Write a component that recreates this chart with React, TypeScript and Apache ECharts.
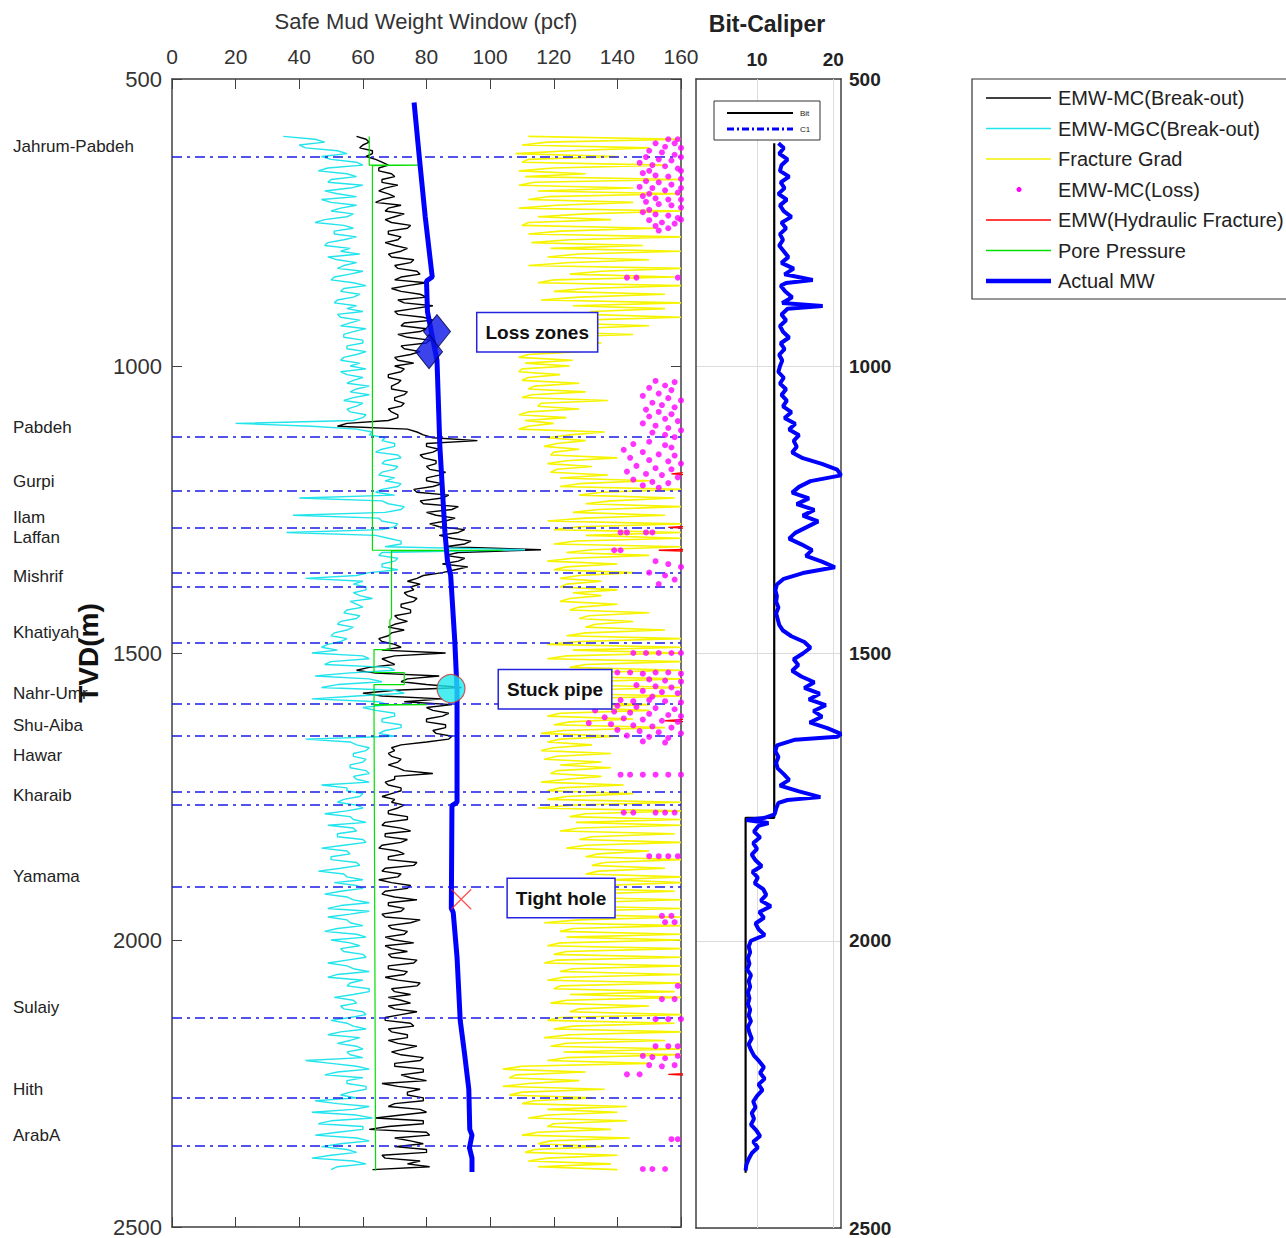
import React, { useEffect, useRef } from "react";
import * as echarts from "echarts";

const FONT = '"Liberation Sans", Arial, Helvetica, sans-serif';

// Log sampling: values every 5 m from 600 m TVD (20 values per 100 m row)
const LOG_TOP = 600;
const LOG_STEP = 5;

// EMW-MC (Break-out), pcf
const MC_BREAKOUT = [
  58, 61, 62, 60, 59, 63, 63, 61, 64, 66, 68, 65, 65, 69, 70, 66, 66, 71, 67, 65,
  68, 70, 66, 64, 72, 68, 67, 73, 70, 67, 69, 75, 74, 68, 68, 72, 71, 67, 70, 74,
  72, 68, 69, 76, 75, 70, 71, 77, 78, 72, 70, 80, 74, 69, 72, 78, 80, 71, 73, 82,
  76, 70, 71, 79, 82, 73, 72, 80, 78, 71, 74, 81, 80, 72, 73, 78, 75, 70, 71, 76,
  70, 73, 72, 68, 68, 72, 71, 69, 69, 74, 73, 70, 70, 73, 72, 68, 69, 71, 71, 68,
  55, 52, 74, 77, 79, 82, 96, 80, 80, 84, 82, 78, 79, 83, 83, 80, 81, 86, 84, 80,
  80, 85, 82, 76, 77, 87, 85, 78, 79, 90, 88, 80, 83, 89, 86, 81, 84, 92, 90, 84,
  88, 94, 92, 86, 116, 90, 86, 92, 90, 85, 93, 89, 85, 79, 77, 74, 78, 75, 76, 73,
  74, 77, 76, 72, 72, 75, 75, 70, 71, 74, 70, 68, 73, 69, 68, 65, 66, 70, 72, 66,
  86, 70, 66, 68, 70, 62, 58, 64, 84, 74, 72, 80, 91, 70, 60, 66, 85, 73, 88, 80,
  82, 87, 85, 80, 80, 86, 86, 82, 83, 88, 87, 80, 72, 69, 70, 68, 69, 72, 71, 68,
  71, 73, 82, 70, 70, 67, 68, 72, 72, 69, 66, 70, 69, 73, 71, 68, 68, 74, 74, 67,
  66, 72, 75, 67, 67, 74, 72, 66, 65, 71, 73, 68, 68, 77, 76, 67, 66, 72, 71, 65,
  69, 75, 74, 67, 66, 70, 77, 68, 68, 73, 72, 66, 67, 78, 75, 68, 69, 74, 73, 67,
  70, 76, 67, 69, 74, 68, 69, 77, 76, 68, 68, 74, 73, 67, 71, 78, 77, 69, 70, 75,
  68, 72, 75, 68, 70, 77, 72, 67, 67, 75, 76, 68, 69, 74, 74, 68, 71, 77, 73, 69,
  72, 79, 78, 70, 70, 79, 79, 72, 75, 80, 66, 71, 78, 74, 74, 79, 79, 70, 68, 78,
  80, 72, 64, 79, 79, 68, 62, 80, 81, 70, 75, 79, 70, 80, 80, 66, 67, 78, 74, 81,
  63,
];

// EMW-MGC (Break-out), pcf
const MGC_BREAKOUT = [
  35, 45, 48, 40, 42, 52, 55, 47, 50, 58, 60, 49, 46, 55, 58, 50, 49, 60, 56, 48,
  52, 58, 47, 50, 58, 53, 50, 57, 55, 48, 45, 54, 57, 51, 51, 58, 54, 49, 48, 56,
  53, 59, 49, 52, 58, 54, 52, 60, 56, 51, 50, 57, 61, 54, 53, 59, 57, 52, 51, 58,
  55, 60, 52, 53, 59, 56, 53, 61, 57, 54, 54, 60, 60, 55, 55, 61, 58, 54, 53, 59,
  56, 61, 53, 55, 60, 57, 55, 62, 58, 56, 62, 57, 54, 60, 58, 55, 56, 61, 60, 57,
  20, 44, 58, 63, 62, 67, 66, 70, 70, 66, 64, 71, 72, 67, 66, 71, 70, 66, 65, 70,
  67, 72, 71, 66, 64, 70, 40, 66, 68, 73, 72, 67, 38, 65, 66, 71, 70, 66, 36, 64,
  68, 72, 72, 67, 111, 66, 65, 71, 70, 66, 66, 71, 62, 58, 42, 60, 57, 61, 61, 57,
  59, 63, 56, 58, 60, 55, 54, 59, 58, 53, 52, 57, 55, 51, 50, 55, 53, 49, 47, 52,
  44, 60, 62, 50, 48, 68, 70, 55, 45, 62, 66, 52, 47, 70, 73, 58, 44, 65, 68, 60,
  64, 70, 70, 66, 66, 72, 72, 67, 65, 70, 42, 56, 58, 62, 61, 57, 57, 61, 60, 56,
  56, 61, 62, 57, 58, 62, 47, 55, 55, 60, 59, 54, 52, 58, 60, 55, 48, 56, 57, 61,
  49, 57, 58, 52, 52, 60, 61, 54, 47, 55, 56, 50, 50, 58, 59, 53, 46, 54, 55, 60,
  51, 58, 60, 53, 48, 55, 57, 62, 53, 49, 62, 56, 49, 55, 56, 60, 52, 48, 58, 61,
  50, 56, 59, 53, 54, 60, 61, 55, 49, 55, 57, 62, 52, 49, 60, 56, 55, 62, 62, 57,
  51, 57, 58, 53, 54, 60, 61, 56, 50, 55, 57, 61, 53, 49, 59, 56, 52, 58, 60, 55,
  56, 60, 42, 50, 58, 62, 52, 48, 60, 55, 55, 61, 61, 56, 53, 58, 45, 52, 62, 57,
  44, 58, 63, 50, 46, 60, 60, 52, 45, 58, 62, 53, 47, 55, 58, 50, 44, 57, 61, 52,
  50,
];

// Fracture gradient, pcf
const FRACTURE_GRAD = [
  112, 160, 118, 110, 150, 125, 108, 140, 112, 110, 155, 120, 109, 130, 111, 160, 114, 109, 145, 115,
  160, 118, 112, 145, 121, 109, 160, 130, 115, 138, 112, 110, 152, 122, 112, 160, 125, 113, 148, 119,
  160, 128, 118, 150, 124, 112, 160, 135, 125, 158, 120, 115, 160, 130, 120, 155, 128, 116, 160, 126,
  155, 132, 130, 160, 128, 122, 150, 125, 115, 145, 118, 112, 135, 117, 110, 128, 112, 109, 126, 111,
  125, 110, 109, 122, 112, 110, 128, 114, 112, 130, 113, 110, 137, 116, 115, 128, 112, 109, 124, 111,
  120, 112, 109, 136, 125, 118, 130, 121, 117, 128, 120, 119, 140, 124, 118, 132, 121, 119, 137, 122,
  150, 128, 122, 160, 135, 128, 158, 138, 130, 160, 134, 126, 155, 130, 118, 160, 128, 120, 160, 130,
  160, 127, 120, 160, 132, 124, 150, 126, 118, 140, 124, 120, 145, 128, 122, 135, 124, 122, 140, 126,
  135, 125, 122, 140, 128, 125, 150, 131, 128, 145, 133, 130, 155, 130, 124, 160, 128, 118, 160, 126,
  160, 124, 118, 160, 130, 125, 160, 122, 116, 160, 128, 122, 160, 126, 120, 160, 124, 118, 150, 124,
  150, 122, 118, 145, 125, 120, 155, 123, 116, 140, 122, 118, 132, 120, 116, 138, 121, 117, 135, 122,
  138, 121, 119, 135, 124, 116, 142, 122, 118, 145, 124, 118, 160, 126, 115, 160, 130, 125, 160, 127,
  160, 128, 122, 158, 132, 128, 160, 130, 124, 150, 134, 130, 160, 136, 132, 155, 134, 130, 160, 138,
  160, 135, 128, 158, 130, 122, 160, 126, 118, 160, 124, 120, 160, 128, 117, 160, 126, 122, 160, 124,
  160, 122, 118, 160, 124, 120, 160, 121, 117, 160, 126, 122, 160, 123, 118, 160, 122, 120, 158, 125,
  160, 124, 119, 150, 128, 125, 160, 122, 118, 158, 126, 120, 160, 125, 117, 155, 124, 119, 160, 123,
  160, 124, 118, 150, 110, 104, 130, 108, 106, 128, 112, 104, 136, 110, 106, 132, 114, 110, 143, 118,
  140, 118, 112, 143, 120, 118, 138, 115, 110, 144, 119, 115, 135, 114, 111, 140, 118, 112, 138, 115,
  140,
];

// Pore pressure [pcf, depth]
const PORE_PRESSURE = [
  [62, 600], [62, 650], [78, 650], [63, 651], [63, 1321], [104, 1321], [69, 1322],
  [69, 1440], [68.5, 1442], [68.5, 1494], [63.5, 1494], [63.5, 1534], [73, 1534],
  [73, 1555], [63.5, 1555], [63.5, 1590], [80, 1590], [63.5, 1591], [64, 2402],
];

// EMW (Hydraulic fracture) [pcf, depth]; mostly beyond 160 pcf
const HYDRAULIC_FRAC = [
  [170, 1180], [157, 1188], [170, 1192], [170, 1276], [156, 1281], [170, 1285],
  [170, 1318], [153, 1321], [170, 1324], [170, 1612], [155, 1618], [170, 1622],
  [170, 2230], [156, 2234], [170, 2238],
];

// EMW-MC (Loss) points [pcf, depth]
const MC_LOSS = [
  [156, 605], [159, 605], [152, 612], [158, 612], [155, 618], [160, 620], [150, 625],
  [154, 628], [158, 632], [149, 636], [153, 640], [157, 642], [147, 646], [151, 650],
  [155, 652], [159, 656], [150, 660], [148, 664], [152, 668], [156, 670], [160, 674],
  [149, 678], [153, 680], [157, 684], [147, 688], [151, 690], [155, 694], [159, 698],
  [150, 700], [148, 704], [152, 708], [156, 710], [149, 714], [153, 718], [157, 720],
  [160, 724], [150, 728], [148, 732], [152, 736], [156, 738], [159, 742], [150, 746],
  [154, 750], [158, 752], [152, 756], [156, 760], [153, 764], [160, 690], [160, 660],
  [160, 636], [160, 710], [160, 745],
  [143, 846], [146, 846], [159, 846],
  [152, 1026], [158, 1028], [155, 1034], [150, 1038], [157, 1042], [153, 1048],
  [148, 1052], [156, 1056], [160, 1060], [151, 1064], [154, 1068], [158, 1072],
  [149, 1076], [153, 1080], [157, 1084], [150, 1088], [155, 1092], [159, 1096],
  [148, 1100], [152, 1104], [156, 1108], [160, 1112], [151, 1116], [155, 1120], [158, 1124],
  [150, 1132], [145, 1136], [155, 1138], [157, 1142], [142, 1146], [148, 1150],
  [153, 1154], [158, 1156], [144, 1160], [150, 1164], [156, 1166], [160, 1170],
  [146, 1174], [152, 1178], [157, 1180], [143, 1184], [149, 1188], [154, 1190],
  [159, 1194], [145, 1198], [151, 1202], [156, 1204], [148, 1208], [153, 1212],
  [141, 1290], [143, 1290], [149, 1290], [151, 1290], [139, 1321], [141, 1321],
  [152, 1340], [156, 1345], [160, 1350], [150, 1360], [155, 1365], [158, 1372], [153, 1380],
  [145, 1500], [149, 1500], [153, 1500], [157, 1500], [160, 1500],
  [140, 1534], [144, 1534], [148, 1536], [152, 1534], [156, 1534], [160, 1536],
  [150, 1546], [155, 1548], [160, 1550], [146, 1556], [152, 1558], [157, 1560],
  [148, 1566], [154, 1568], [159, 1570], [151, 1576],
  [141, 1582], [145, 1584], [150, 1582], [155, 1584], [160, 1586], [135, 1590],
  [140, 1592], [146, 1594], [152, 1596], [158, 1598], [133, 1600], [139, 1602],
  [144, 1604], [150, 1606], [156, 1608], [160, 1610], [136, 1612], [142, 1614],
  [148, 1616], [154, 1618], [159, 1620], [131, 1622], [138, 1624], [145, 1626],
  [151, 1628], [157, 1630], [140, 1634], [147, 1636], [153, 1638], [160, 1640],
  [143, 1644], [150, 1646], [156, 1648], [148, 1654], [155, 1656],
  [141, 1712], [144, 1712], [148, 1712], [152, 1712], [156, 1712], [160, 1712],
  [142, 1778], [145, 1778], [152, 1778], [155, 1778], [158, 1778],
  [150, 1854], [153, 1854], [156, 1854], [159, 1854],
  [154, 1958], [157, 1958], [155, 1969], [158, 1969],
  [159, 2080], [154, 2103], [158, 2103], [152, 2138], [156, 2138], [160, 2138],
  [152, 2185], [156, 2185], [159, 2185],
  [148, 2202], [151, 2204], [155, 2206], [159, 2202], [150, 2218], [154, 2220], [158, 2218],
  [143, 2234], [147, 2234], [157, 2347], [159, 2347], [148, 2399], [151, 2399], [155, 2399],
];

// Actual mud weight [pcf, depth]
const ACTUAL_MW = [
  [76.1, 541], [77.8, 640], [79.6, 740], [81.8, 845], [80.0, 852], [80.3, 905],
  [81.5, 940], [83.3, 990], [84.2, 1140], [85.8, 1290], [86.6, 1340], [87.6, 1365],
  [88.9, 1480], [89.6, 1565], [89.6, 1760], [88.0, 1766], [87.8, 1945], [88.4, 1952],
  [89.6, 2030], [90.6, 2140], [92.0, 2200], [93.3, 2260], [93.6, 2330], [94.3, 2340],
  [93.5, 2362], [94.3, 2380], [94.3, 2404],
];

// Drilling events
const LOSS_ZONES = [[83.3, 940], [80.8, 975]];
const STUCK_PIPE = [[87.7, 1562]];
const TIGHT_HOLE = [[90.9, 1929]];
const EVENT_NOTES = [
  { name: "Loss zones", value: [114.8, 941] },
  { name: "Stuck pipe", value: [120.4, 1563] },
  { name: "Tight hole", value: [122.3, 1927] },
];

// Formation tops (m) and their names
const FORMATION_TOPS = [636, 1123, 1217, 1282, 1360, 1384, 1482, 1588, 1645, 1741, 1765, 1908, 2136, 2275, 2359];
const FORMATION_NAMES = [
  "Jahrum-Pabdeh", "Pabdeh", "Gurpi", "Ilam", "Laffan", "Mishrif", "Khatiyah",
  "Nahr-Umr", "Shu-Aiba", "Hawar", "Kharaib", "Yamama", "Sulaiy", "Hith", "ArabA",
];
const FORMATION_LABEL_DEPTHS = [618, 1107, 1201, 1264, 1299, 1367, 1464, 1570, 1626, 1678, 1748, 1889, 2117, 2260, 2341];

// Bit size and caliper C1 (in) [in, depth]
const BIT_SIZE = [[12.25, 612], [12.25, 1786], [8.5, 1786], [8.5, 2404]];
const CALIPER_C1 = [
  [12.8, 612], [13.5, 620], [12.9, 630], [14.0, 640], [13.2, 650], [13.0, 660], [14.2, 670],
  [13.1, 680], [13.6, 690], [12.8, 700], [13.9, 710], [13.0, 720], [13.5, 730], [14.5, 740],
  [13.2, 750], [13.8, 760], [13.0, 770], [13.4, 780], [12.9, 790], [13.5, 800], [14.1, 810],
  [13.2, 820], [14.8, 830], [13.6, 840], [17.3, 850], [13.8, 855], [13.1, 860], [13.7, 870],
  [14.6, 880], [13.3, 890], [18.6, 895], [14.0, 900], [13.2, 910], [13.8, 920], [13.0, 930],
  [13.4, 940], [14.2, 950], [13.1, 960], [13.6, 970], [12.9, 980], [13.3, 990], [13.0, 1000],
  [12.8, 1010], [13.5, 1020], [13.0, 1030], [13.8, 1040], [13.2, 1050], [13.9, 1060],
  [13.4, 1070], [14.5, 1080], [13.6, 1090], [15.0, 1100], [14.2, 1110], [15.5, 1120],
  [14.8, 1130], [15.2, 1140], [14.6, 1150], [16.0, 1160], [18.5, 1170], [20.5, 1180],
  [21.0, 1190], [17.0, 1200], [15.5, 1210], [14.6, 1220], [16.8, 1230], [15.2, 1240],
  [17.5, 1250], [16.0, 1260], [18.0, 1270], [16.5, 1280], [15.0, 1290], [14.2, 1300],
  [15.8, 1310], [17.2, 1320], [16.4, 1330], [18.5, 1340], [20.2, 1350], [16.0, 1360],
  [13.5, 1370], [12.6, 1380], [12.4, 1390], [12.6, 1400], [12.5, 1410], [12.8, 1420],
  [12.5, 1430], [12.7, 1440], [12.9, 1450], [13.4, 1460], [14.5, 1470], [16.2, 1480],
  [17.0, 1490], [16.0, 1500], [14.8, 1510], [15.4, 1520], [14.6, 1530], [15.8, 1540],
  [17.5, 1550], [16.2, 1560], [18.2, 1570], [16.8, 1580], [19.0, 1590], [17.4, 1600],
  [18.5, 1610], [16.9, 1620], [19.2, 1630], [21.0, 1640], [20.5, 1645], [15.0, 1650],
  [12.6, 1660], [12.4, 1670], [12.8, 1680], [12.5, 1690], [12.7, 1700], [13.5, 1710],
  [14.2, 1720], [13.0, 1730], [15.5, 1740], [18.3, 1750], [14.0, 1755], [12.8, 1760],
  [12.5, 1770], [12.3, 1780], [11.0, 1786], [8.6, 1790], [11.5, 1795], [10.2, 1800],
  [9.6, 1810], [10.4, 1820], [9.5, 1830], [10.0, 1840], [9.3, 1850], [9.8, 1860],
  [10.6, 1870], [9.4, 1880], [10.1, 1890], [9.7, 1900], [10.8, 1910], [11.2, 1920],
  [10.5, 1930], [11.8, 1940], [10.3, 1950], [10.9, 1960], [9.8, 1970], [10.2, 1980],
  [11.0, 1990], [9.2, 2000], [8.9, 2010], [9.1, 2020], [8.8, 2030], [9.0, 2040],
  [8.7, 2050], [9.2, 2060], [8.9, 2070], [9.1, 2080], [8.8, 2090], [9.0, 2100],
  [8.8, 2110], [9.1, 2120], [8.9, 2130], [9.2, 2140], [8.8, 2150], [9.0, 2160],
  [9.3, 2170], [8.9, 2180], [9.2, 2190], [9.6, 2200], [10.3, 2210], [10.9, 2220],
  [10.4, 2230], [11.0, 2240], [10.2, 2250], [10.7, 2260], [10.0, 2270], [9.5, 2280],
  [9.8, 2290], [9.3, 2300], [9.6, 2310], [9.2, 2320], [9.9, 2330], [10.4, 2340],
  [9.5, 2350], [10.1, 2360], [9.3, 2370], [8.9, 2380], [8.6, 2390], [8.5, 2400],
];

const LEGEND_ITEMS = [
  { name: "EMW-MC(Break-out)", color: "#000000", kind: "line", width: 1.5 },
  { name: "EMW-MGC(Break-out)", color: "#22e4ec", kind: "line", width: 1.5 },
  { name: "Fracture Grad", color: "#f2f000", kind: "line", width: 1.5 },
  { name: "EMW-MC(Loss)", color: "#ff00ff", kind: "dot", width: 0 },
  { name: "EMW(Hydraulic Fracture)", color: "#ff0000", kind: "line", width: 1.5 },
  { name: "Pore Pressure", color: "#00e000", kind: "line", width: 1.5 },
  { name: "Actual MW", color: "#0000ff", kind: "line", width: 4.5 },
];

const logPairs = (vals: number[]) => vals.map((v, i) => [v, LOG_TOP + i * LOG_STEP]);

const AXIS_LINE = { show: true, onZero: false, lineStyle: { color: "#404040", width: 1.5 } };
const plain = (v: number) => String(v);

function buildOption(): any {
  const logLine = (name: string, data: any[], color: string, width: number, z: number) => ({
    name,
    type: "line",
    xAxisIndex: 0,
    yAxisIndex: 0,
    data,
    symbol: "none",
    z,
    lineStyle: { color, width },
  });

  return {
    animation: false,
    backgroundColor: "#ffffff",
    grid: [
      { left: 172, top: 79, width: 509, height: 1149 },
      { left: 696, top: 79, width: 145, height: 1149 },
    ],
    xAxis: [
      {
        gridIndex: 0, type: "value", position: "top", min: 0, max: 160, interval: 20,
        axisLine: AXIS_LINE,
        axisTick: { show: true, inside: true, length: 10, lineStyle: { color: "#404040" } },
        axisLabel: { fontSize: 21, color: "#333", fontFamily: FONT, margin: 12, formatter: plain },
        splitLine: { show: false },
      },
      {
        gridIndex: 0, type: "value", position: "bottom", min: 0, max: 160, interval: 20,
        axisLine: AXIS_LINE,
        axisTick: { show: true, inside: true, length: 10, lineStyle: { color: "#404040" } },
        axisLabel: { show: false },
        splitLine: { show: false },
      },
      {
        gridIndex: 1, type: "value", position: "top", min: 2, max: 21,
        axisLine: AXIS_LINE,
        axisTick: { show: true, inside: true, length: 10, customValues: [10, 20], lineStyle: { color: "#404040" } },
        axisLabel: { customValues: [10, 20], fontSize: 19, fontWeight: "bold", color: "#222", fontFamily: FONT, margin: 10, formatter: plain },
        splitLine: { show: false },
      },
      {
        gridIndex: 1, type: "value", position: "bottom", min: 2, max: 21,
        axisLine: AXIS_LINE,
        axisTick: { show: true, inside: true, length: 10, customValues: [10, 20], lineStyle: { color: "#404040" } },
        axisLabel: { show: false },
        splitLine: { show: false },
      },
    ],
    yAxis: [
      {
        gridIndex: 0, type: "value", inverse: true, min: 500, max: 2500, interval: 500, position: "left",
        name: "TVD(m)", nameLocation: "middle", nameGap: 70, nameRotate: 90,
        nameTextStyle: { fontSize: 28, fontWeight: "bold", color: "#111", fontFamily: FONT },
        axisLine: AXIS_LINE,
        axisTick: { show: true, inside: true, length: 10, lineStyle: { color: "#404040" } },
        axisLabel: { fontSize: 22, color: "#333", fontFamily: FONT, margin: 10, formatter: plain },
        splitLine: { show: false },
      },
      {
        gridIndex: 0, type: "value", inverse: true, min: 500, max: 2500, interval: 500, position: "right",
        axisLine: AXIS_LINE,
        axisTick: { show: true, inside: true, length: 10, lineStyle: { color: "#404040" } },
        axisLabel: { show: false },
        splitLine: { show: false },
      },
      {
        gridIndex: 1, type: "value", inverse: true, min: 500, max: 2500, interval: 500, position: "right",
        axisLine: AXIS_LINE,
        axisTick: { show: false },
        axisLabel: { fontSize: 19, fontWeight: "bold", color: "#222", fontFamily: FONT, margin: 8, formatter: plain },
        splitLine: { show: true, lineStyle: { color: "#dcdcdc", width: 1 } },
      },
      {
        gridIndex: 1, type: "value", inverse: true, min: 500, max: 2500, interval: 500, position: "left",
        axisLine: AXIS_LINE,
        axisTick: { show: false },
        axisLabel: { show: false },
        splitLine: { show: false },
      },
    ],
    series: [
      logLine("Fracture Grad", logPairs(FRACTURE_GRAD), "#f6f400", 1.6, 2),
      logLine("EMW-MC(Break-out)", logPairs(MC_BREAKOUT), "#000000", 1.4, 3),
      logLine("EMW-MGC(Break-out)", logPairs(MGC_BREAKOUT), "#22e4ec", 1.4, 4),
      {
        ...logLine("Pore Pressure", PORE_PRESSURE, "#00e000", 1.2, 5),
        markLine: {
          silent: true,
          z: 5,
          symbol: ["none", "none"],
          label: { show: false },
          lineStyle: { color: "#1a1ae6", width: 1.6, type: [10, 5, 3, 5] },
          data: FORMATION_TOPS.map((d) => ({ yAxis: d })),
        },
      },
      {
        name: "EMW-MC(Loss)", type: "scatter", xAxisIndex: 0, yAxisIndex: 0, z: 6,
        data: MC_LOSS, symbol: "circle", symbolSize: 6,
        itemStyle: { color: "#ff00ff" },
      },
      logLine("EMW(Hydraulic Fracture)", HYDRAULIC_FRAC, "#ff0000", 1.3, 6),
      logLine("Actual MW", ACTUAL_MW, "#0000ff", 5, 8),
      {
        name: "Loss zones marker", type: "scatter", xAxisIndex: 0, yAxisIndex: 0, z: 9,
        data: LOSS_ZONES, symbol: "diamond", symbolSize: [27, 34],
        itemStyle: { color: "#0a14e8", borderColor: "#000040", borderWidth: 1 },
      },
      {
        name: "Stuck pipe marker", type: "scatter", xAxisIndex: 0, yAxisIndex: 0, z: 9,
        data: STUCK_PIPE, symbol: "circle", symbolSize: 28,
        itemStyle: { color: "#1ee8ee", borderColor: "#c83030", borderWidth: 1.2 },
      },
      {
        name: "Tight hole marker", type: "scatter", xAxisIndex: 0, yAxisIndex: 0, z: 9,
        data: TIGHT_HOLE, symbol: "path://M0,0L10,10M10,0L0,10", symbolSize: 20,
        itemStyle: { color: "transparent", borderColor: "#ff2020", borderWidth: 1.2 },
      },
      {
        name: "Bit", type: "line", xAxisIndex: 2, yAxisIndex: 2, data: BIT_SIZE, symbol: "none", z: 3,
        lineStyle: { color: "#000000", width: 2.2 },
        markLine: {
          silent: true,
          z: 1,
          symbol: ["none", "none"],
          label: { show: false },
          lineStyle: { color: "#dcdcdc", width: 1, type: "solid" },
          data: [{ xAxis: 10 }, { xAxis: 20 }],
        },
      },
      {
        name: "C1", type: "line", xAxisIndex: 2, yAxisIndex: 2, data: CALIPER_C1, symbol: "none", z: 4,
        lineStyle: { color: "#0000ff", width: 4 },
      },
    ],
  };
}

function buildGraphics(chart: echarts.ECharts): any[] {
  const g: any[] = [];
  // panel titles
  g.push({
    type: "text", x: 426, y: 21, z: 50,
    style: { text: "Safe Mud Weight Window (pcf)", font: `22px ${FONT}`, fill: "#333", align: "center", verticalAlign: "middle" },
  });
  g.push({
    type: "text", x: 767, y: 24, z: 50,
    style: { text: "Bit-Caliper", font: `bold 23px ${FONT}`, fill: "#222", align: "center", verticalAlign: "middle" },
  });

  // formation names beside their tops
  FORMATION_NAMES.forEach((name, i) => {
    const y = chart.convertToPixel({ yAxisIndex: 0 }, FORMATION_LABEL_DEPTHS[i]) as number;
    g.push({
      type: "text", x: 13, y, z: 50,
      style: { text: name, font: `17px ${FONT}`, fill: "#222", align: "left", verticalAlign: "middle" },
    });
  });

  // boxed event notes, placed at their data positions
  EVENT_NOTES.forEach((note) => {
    const [px, py] = chart.convertToPixel({ gridIndex: 0 }, note.value) as number[];
    g.push({
      type: "text", x: px, y: py, z: 60,
      style: {
        text: note.name, font: `bold 19px ${FONT}`, fill: "#111",
        align: "center", verticalAlign: "middle",
        backgroundColor: "#ffffff", borderColor: "#2424e0", borderWidth: 1.5,
        padding: [10, 8, 9, 8],
      },
    });
  });

  // main legend
  const lx = 972, ly = 79, rowH = 30.5;
  g.push({
    type: "rect", z: 50,
    shape: { x: lx, y: ly, width: 330, height: 220 },
    style: { fill: "#ffffff", stroke: "#333", lineWidth: 1.2 },
  });
  LEGEND_ITEMS.forEach((it, i) => {
    const cy = ly + 19 + i * rowH;
    if (it.kind === "line") {
      g.push({
        type: "line", z: 51,
        shape: { x1: 986, y1: cy, x2: 1051, y2: cy },
        style: { stroke: it.color, lineWidth: it.width },
      });
    } else {
      g.push({
        type: "circle", z: 51,
        shape: { cx: 1019, cy, r: 2.5 },
        style: { fill: it.color },
      });
    }
    g.push({
      type: "text", x: 1058, y: cy, z: 51,
      style: { text: it.name, font: `20px ${FONT}`, fill: "#222", align: "left", verticalAlign: "middle" },
    });
  });

  // caliper legend
  g.push({
    type: "rect", z: 50,
    shape: { x: 714, y: 101, width: 106, height: 39 },
    style: { fill: "#ffffff", stroke: "#333", lineWidth: 1 },
  });
  g.push({ type: "line", z: 51, shape: { x1: 727, y1: 113, x2: 793, y2: 113 }, style: { stroke: "#000", lineWidth: 2 } });
  g.push({
    type: "line", z: 51, shape: { x1: 727, y1: 129, x2: 793, y2: 129 },
    style: { stroke: "#0000ff", lineWidth: 3, lineDash: [7, 3, 2, 3] },
  });
  g.push({ type: "text", x: 800, y: 113, z: 51, style: { text: "Bit", font: `8px ${FONT}`, fill: "#222", verticalAlign: "middle" } });
  g.push({ type: "text", x: 800, y: 129, z: 51, style: { text: "C1", font: `8px ${FONT}`, fill: "#222", verticalAlign: "middle" } });
  return g;
}

export default function App() {
  const ref = useRef<HTMLDivElement>(null);
  useEffect(() => {
    if (!ref.current) return;
    const chart = echarts.init(ref.current, null, { renderer: "svg" });
    chart.setOption(buildOption());
    chart.setOption({ graphic: buildGraphics(chart) });
    return () => chart.dispose();
  }, []);
  return (
    <div
      ref={ref}
      style={{ position: "absolute", left: 0, top: 0, width: 1286, height: 1238, background: "#fff" }}
    />
  );
}
